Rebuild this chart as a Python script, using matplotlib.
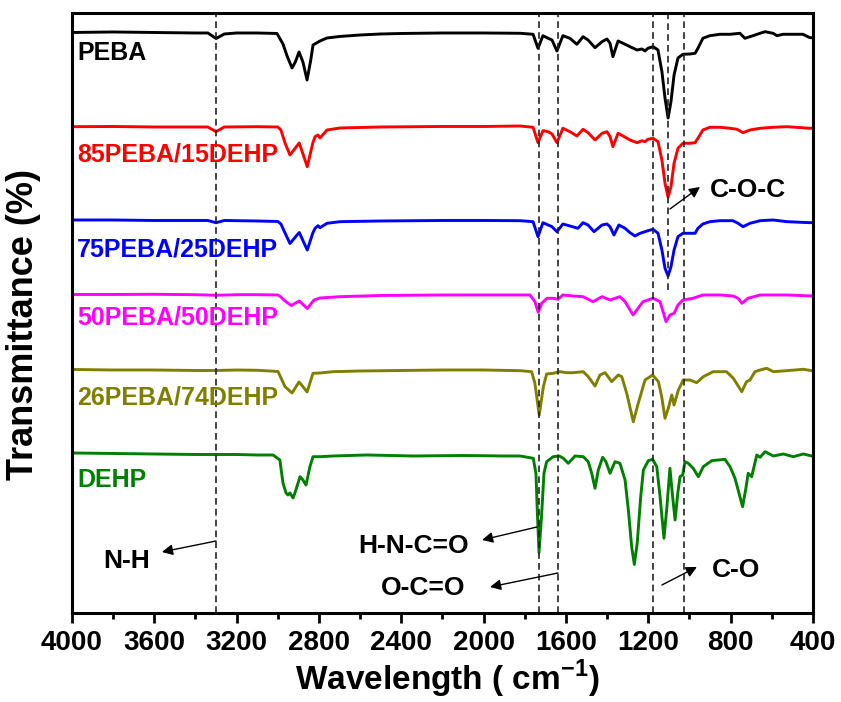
import matplotlib
matplotlib.use('Agg')
import matplotlib.pyplot as plt
from matplotlib.ticker import MultipleLocator

plt.rcParams['font.family'] = ['Liberation Sans', 'DejaVu Sans']
plt.rcParams['font.weight'] = 'bold'
plt.rcParams['mathtext.fontset'] = 'custom'
plt.rcParams['mathtext.rm'] = 'Liberation Sans:bold'
plt.rcParams['mathtext.bf'] = 'Liberation Sans:bold'

# spectra (wavenumber, stacked transmittance)
peba_wn = [4000, 3800, 3600, 3400, 3340, 3300, 3260, 3200, 3100, 3004, 2975, 2955, 2931, 2915,
           2897, 2878, 2858, 2840, 2829, 2812, 2795, 2761, 2700, 2600, 2500, 2400, 2200, 2000,
           1823, 1760, 1736, 1712, 1687, 1668, 1644, 1615, 1581, 1547, 1517, 1493, 1459, 1425,
           1401, 1386, 1372, 1347, 1323, 1289, 1255, 1231, 1216, 1202, 1177, 1153, 1134, 1119,
           1104, 1090, 1075, 1056, 1032, 998, 973, 959, 935, 901, 852, 803, 755, 731, 706, 657,
           633, 594, 575, 546, 478, 449, 415, 400]
peba_t = [580.5, 581, 580.5, 580, 580, 574.5, 579, 580, 580, 579.5, 569, 557, 545, 551,
          561, 551, 533, 553, 568, 570, 572, 575, 576.5, 578, 579, 579.5, 580, 580,
          579.7, 578.7, 564.7, 577.3, 574.7, 573, 562, 577.3, 574.7, 568.7, 576.3, 573, 565.3, 571.3,
          574, 569.7, 556.3, 572, 569.7, 566.3, 563, 564, 562, 564.7, 566.3, 563, 541.3, 515,
          495, 511.3, 538, 555, 558.7, 559, 559.7, 564.7, 574.7, 577.3, 578.7, 578.7, 579.7, 574.7, 576.3, 579.7,
          581.3, 579.7, 577.3, 578.7, 578.7, 578.7, 575.3, 575.3]

p85_wn = [4000, 3800, 3600, 3400, 3340, 3300, 3260, 3100, 3000, 2985, 2965, 2941, 2896, 2857,
          2830, 2819, 2805, 2795, 2761, 2698, 2500, 2200, 2000,
          1823, 1760, 1736, 1712, 1687, 1668, 1644, 1615, 1581, 1547, 1517, 1493, 1459, 1425,
          1401, 1386, 1372, 1347, 1323, 1289, 1255, 1231, 1216, 1202, 1177, 1153, 1134, 1119,
          1104, 1090, 1075, 1056, 1032, 998, 973, 959, 935, 901, 852, 803, 769, 740, 706, 657,
          594, 526, 415, 400]
p85_t = [486.3, 486.5, 486, 486, 486, 481.3, 486, 486.3, 486, 483, 470, 458, 470, 446.3,
         470, 476.3, 478, 475, 483, 485, 486, 486.5, 486.5,
         487, 485.7, 470.3, 482.3, 481.3, 479, 470.3, 484.7, 481.3, 477, 483.7, 480.3, 473, 479.7,
         481.3, 476.3, 466.3, 479.7, 477, 473, 470.3, 472.3, 471.3, 473.7, 474.7, 471.3, 453, 429.7,
         415.7, 426.3, 449.7, 464.7, 469.7, 469.7, 470.3, 474.7, 483, 485.7, 485.7, 484.7, 483.7, 480.3, 483, 484.7,
         485.7, 486.3, 484.7, 485]

p75_wn = [4000, 3800, 3600, 3400, 3340, 3300, 3260, 3100, 3000, 2985, 2965, 2941, 2896, 2857,
          2830, 2819, 2805, 2795, 2761, 2698, 2500, 2200, 2000,
          1823, 1760, 1736, 1712, 1687, 1668, 1644, 1615, 1581, 1542, 1517, 1493, 1464, 1425,
          1401, 1386, 1367, 1343, 1313, 1289, 1265, 1240, 1216, 1202, 1177, 1153, 1134, 1119,
          1104, 1090, 1075, 1056, 1032, 998, 973, 959, 935, 901, 852, 789, 764, 740, 706, 657,
          594, 526, 415, 400]
p75_t = [393, 393, 392.5, 392.5, 392.5, 390.3, 392.5, 392, 391.5, 389, 380, 369.5, 380.5, 363,
         380, 384.7, 387.3, 385.3, 389.7, 391.3, 392, 392.5, 392.5,
         392.3, 391.3, 376.3, 390.3, 388, 386.3, 381.3, 389, 387, 384.7, 390.3, 388, 381.3, 388,
         389, 386.3, 378, 388, 384.7, 380.3, 377, 379.7, 381.3, 382.3, 383.7, 379.7, 363, 344.7,
         337, 346.3, 363, 376.3, 379.7, 379.7, 379.7, 384.7, 389, 391.3, 392.3, 392.3, 389.7, 386.3, 389.7, 392.3,
         393, 391.3, 390.3, 390.5]

p50_wn = [4000, 3800, 3600, 3400, 3300, 3200, 3100, 3000, 2985, 2965, 2935, 2896, 2857, 2824,
          2795, 2698, 2500, 2200, 2000,
          1775, 1751, 1735, 1718, 1692, 1663, 1639, 1615, 1566, 1517, 1469, 1425, 1386, 1338,
          1313, 1274, 1250, 1226, 1177, 1143, 1114, 1095, 1075, 1056, 1032, 983, 935, 852,
          789, 764, 745, 716, 657, 526, 405, 400]
p50_t = [318.5, 318.5, 318.7, 318.3, 317.7, 318.3, 318.3, 318, 316, 312, 307.5, 312, 304.5, 313,
         315, 316.3, 317.5, 318, 318,
         318, 311.3, 300.7, 309.7, 314.7, 314.7, 313.7, 318, 317, 316.3, 311.3, 316.3, 313, 316.3,
         311.3, 298, 304.7, 311.3, 314.7, 311.3, 291.3, 298, 299.7, 308, 313, 314.7, 318, 318,
         317, 314.7, 309.7, 314.7, 318, 318, 317, 317]

p26_wn = [4000, 3800, 3600, 3400, 3300, 3200, 3100, 2999, 2965, 2931, 2897, 2878, 2858, 2829,
          2795, 2732, 2600, 2400, 2200, 2000,
          1823, 1767, 1751, 1730, 1710, 1694, 1662, 1629, 1597, 1565, 1516, 1492, 1459, 1435,
          1410, 1378, 1346, 1329, 1305, 1273, 1249, 1216, 1179, 1151, 1135, 1119, 1103, 1086,
          1075, 1054, 1030, 998, 965, 933, 885, 820, 787, 746, 723, 706, 682, 657, 625, 593,
          528, 447, 406, 400]
p26_t = [243.5, 243, 243, 242.5, 242.5, 243, 242.7, 241.5, 226.3, 220, 231, 226.3, 221, 239.7,
         240, 241.3, 242, 242.5, 243, 243,
         242.3, 241.3, 229.7, 198, 226.3, 239, 239.7, 241.3, 240.3, 240.3, 241.3, 236.3, 227, 238,
         240.3, 231.3, 238, 236.3, 219.7, 191.3, 209.7, 233, 238, 231.3, 216.3, 194.7, 204.7, 218,
         208, 223, 233, 233, 230.3, 236.3, 241.3, 241.3, 234.7, 221.3, 231.3, 233, 241.3, 243, 244.7, 241.3,
         242.3, 243.7, 242.3, 242.3]

dehp_wn = [4000, 3800, 3600, 3400, 3300, 3200, 3100, 3023, 2990, 2975, 2960, 2951, 2941, 2926,
           2917, 2892, 2878, 2863, 2844, 2829, 2795, 2732, 2567, 2343, 2100, 1900,
           1823, 1759, 1746, 1739, 1731, 1718, 1707, 1694, 1662, 1633, 1613, 1589, 1556, 1516,
           1492, 1475, 1459, 1443, 1422, 1406, 1386, 1362, 1338, 1313, 1297, 1281, 1268, 1254,
           1237, 1224, 1200, 1179, 1159, 1143, 1124, 1111, 1095, 1082, 1070, 1057, 1046, 1033,
           1022, 1006, 982, 957, 933, 892, 828, 803, 779, 755, 742, 726, 715, 698, 673, 657,
           633, 593, 544, 496, 447, 406, 400]
dehp_t = [160, 159.5, 159, 158.5, 158.5, 158.5, 158, 158, 153, 130, 120, 118, 120, 115,
          120, 136.3, 133, 128, 146.3, 156.3, 156.3, 157, 158, 157, 157.5, 157,
          157, 154.7, 139.7, 99.7, 60.5, 99.7, 139.7, 151.3, 156.3, 157, 154.7, 149.7, 157, 156.3,
          151.3, 139.7, 124.7, 143, 155.7, 151.3, 139.7, 151.3, 149.7, 133, 103, 66.3, 48.5, 69.7,
          116.3, 143, 152.3, 153.7, 146.3, 116.3, 74.7, 103, 144.7, 116.3, 93, 119.7, 136.3, 138,
          151.3, 149.7, 144.7, 136.3, 146.3, 152.3, 153.7, 146.3, 134.7, 116.3, 106.3, 124.7, 139.7, 136.3, 158, 155.7,
          161.3, 157, 159, 156.3, 159, 157, 157]

names = ['PEBA', '85PEBA/15DEHP', '75PEBA/25DEHP', '50PEBA/50DEHP', '26PEBA/74DEHP', 'DEHP']
colors = ['#000000', '#FF0000', '#0000FF', '#FF00FF', '#808000', '#008000']
label_y = [553, 451, 356, 288, 208, 126]

band_lines = [3300, 1733, 1640, 1176, 1028]
coc_line = 1103

fig = plt.figure(figsize=(8.41, 7.02), dpi=100)
ax = fig.add_axes([0.0856, 0.1268, 0.8811, 0.8547])

series = [(peba_wn, peba_t), (p85_wn, p85_t), (p75_wn, p75_t),
          (p50_wn, p50_t), (p26_wn, p26_t), (dehp_wn, dehp_t)]
for (wn, t), c, name, ly in zip(series, colors, names, label_y):
    ax.plot(wn, t, color=c, lw=2.1)
    ax.text(3975, ly, name, color=c, fontsize=18, fontweight='bold', va='baseline')

dash = (0, (4, 2.5))
for x in band_lines:
    ax.axvline(x, color='#222222', lw=1.2, ls=dash)
ax.vlines(coc_line, 323, 600, color='#222222', lw=1.2, ls=dash)

arrow = dict(arrowstyle='-|>', color='k', lw=1, mutation_scale=16, shrinkA=0, shrinkB=0)
ax.annotate('', xy=(3563, 61), xytext=(3300, 72), arrowprops=arrow)
ax.text(3849, 45, 'N-H', fontsize=19, va='baseline')
ax.annotate('', xy=(2008, 73), xytext=(1741, 86), arrowprops=arrow)
ax.text(2071, 60, 'H-N-C=O', fontsize=19, va='baseline', ha='right')
ax.annotate('', xy=(1969, 26), xytext=(1639, 40), arrowprops=arrow)
ax.text(2091, 18, 'O-C=O', fontsize=19, va='baseline', ha='right')
ax.annotate('', xy=(964, 46), xytext=(1134, 28), arrowprops=arrow)
ax.text(891, 36, 'C-O', fontsize=19, va='baseline')
ax.annotate('', xy=(949, 426), xytext=(1095, 404), arrowprops=arrow)
ax.text(900, 416, 'C-O-C', fontsize=19, va='baseline')

ax.set_xlim(4000, 400)
ax.set_ylim(0, 600)
ax.set_yticks([])
ax.xaxis.set_major_locator(MultipleLocator(400))
ax.xaxis.set_minor_locator(MultipleLocator(200))
ax.tick_params(axis='x', which='major', direction='out', length=7, width=2, labelsize=20, pad=5)
ax.tick_params(axis='x', which='minor', direction='out', length=4, width=2)
for lab in ax.get_xticklabels():
    lab.set_fontweight('bold')
for s in ax.spines.values():
    s.set_linewidth(2.2)

ax.set_xlabel(r'Wavelength ( cm$^{-1}$)', fontsize=24, fontweight='bold')
ax.xaxis.set_label_coords(0.506, -0.128)
ax.xaxis.label.set_va('baseline')
ax.set_ylabel('Transmittance (%)', fontsize=26, fontweight='bold')
ax.yaxis.set_label_coords(-0.065, 0.481)
ax.yaxis.label.set_va('center')

fig.savefig('out.png', dpi=100)
